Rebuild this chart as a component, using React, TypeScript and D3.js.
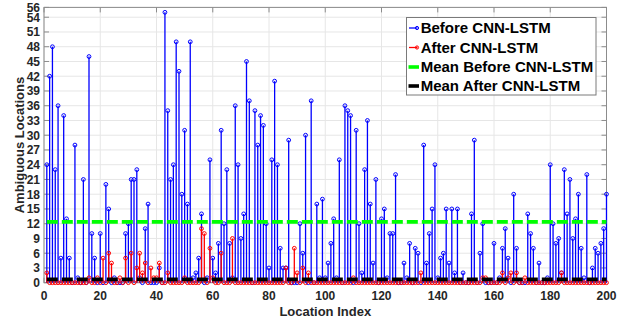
import React from "react";
import * as d3 from "d3";

// Ambiguous locations before CNN-LSTM, indices 1..200
const beforeVals: number[] = [
  24, 42, 48, 23, 36, 5, 34, 13, 5, 0, 28, 1, 0, 21, 0, 46, 10, 5, 0, 10,
  0, 20, 15, 0, 1, 0, 0, 0, 10, 12, 21, 21, 23, 1, 0, 11, 16, 0, 0, 0,
  3, 0, 55, 35, 21, 24, 49, 43, 18, 31, 16, 49, 1, 2, 5, 14, 0, 1, 25, 5,
  2, 8, 31, 12, 23, 8, 1, 36, 24, 9, 14, 45, 37, 0, 35, 28, 34, 32, 12, 3,
  25, 41, 24, 7, 3, 3, 29, 0, 0, 0, 12, 6, 30, 0, 37, 0, 16, 1, 17, 1,
  4, 8, 13, 1, 25, 0, 36, 35, 34, 0, 31, 12, 2, 23, 33, 16, 4, 21, 0, 13,
  15, 1, 10, 10, 22, 0, 0, 4, 1, 8, 0, 7, 6, 0, 28, 4, 10, 15, 24, 1,
  5, 6, 15, 4, 15, 2, 15, 0, 2, 0, 0, 14, 29, 0, 6, 12, 0, 0, 0, 8,
  0, 1, 7, 11, 5, 0, 18, 7, 0, 0, 0, 14, 10, 7, 0, 4, 0, 0, 1, 24,
  12, 8, 9, 2, 23, 14, 21, 9, 13, 18, 7, 1, 22, 0, 3, 7, 6, 8, 11, 18,
];

// Ambiguous locations after CNN-LSTM, indices 1..200
const afterVals: number[] = [
  2, 0, 0, 0, 0, 0, 0, 0, 0, 0, 0, 0, 0, 0, 0, 1, 0, 0, 1, 0,
  5, 0, 6, 4, 0, 0, 1, 0, 5, 0, 6, 0, 3, 6, 2, 4, 0, 3, 1, 1,
  4, 0, 0, 2, 0, 0, 0, 0, 0, 1, 0, 0, 0, 0, 0, 11, 10, 0, 7, 1,
  0, 0, 6, 0, 0, 0, 9, 0, 0, 0, 0, 0, 0, 0, 0, 0, 0, 0, 0, 0,
  0, 0, 0, 0, 0, 3, 0, 0, 7, 2, 0, 3, 0, 2, 0, 0, 0, 0, 0, 0,
  0, 0, 0, 0, 0, 0, 0, 0, 0, 1, 0, 0, 0, 0, 0, 0, 0, 0, 0, 0,
  0, 0, 0, 0, 0, 0, 0, 0, 0, 0, 0, 0, 0, 2, 0, 0, 0, 0, 0, 0,
  0, 0, 0, 0, 0, 0, 0, 0, 0, 0, 0, 0, 0, 0, 0, 1, 1, 0, 0, 0,
  0, 0, 2, 0, 1, 2, 0, 2, 0, 0, 1, 0, 0, 0, 0, 0, 0, 0, 0, 0,
  0, 0, 0, 2, 0, 0, 0, 0, 0, 0, 0, 0, 0, 0, 0, 0, 0, 0, 0, 0,
];

const xTicks: number[] = [0, 20, 40, 60, 80, 100, 120, 140, 160, 180, 200];
const yTicks: number[] = [0, 3, 6, 9, 12, 15, 18, 21, 24, 27, 30, 33, 36, 39, 42, 45, 48, 51, 54, 56];
const legendLabels: string[] = [
  "Before CNN-LSTM",
  "After CNN-LSTM",
  "Mean Before CNN-LSTM",
  "Mean After CNN-LSTM",
];

const W = 637;
const H = 320;
const L = 44;
const R = 606.5;
const T = 7.4;
const B = 282.7;

export default function App() {
  const x = d3.scaleLinear().domain([0, 200]).range([L, R]);
  const y = d3.scaleLinear().domain([0, 56]).range([B, T]);
  const idx = beforeVals.map((_, i) => i + 1);
  const meanBefore = d3.mean(beforeVals) as number;
  const meanAfter = d3.mean(afterVals) as number;
  const font = "'Liberation Sans', Arial, sans-serif";
  const txt = "#262626";
  const grid = "#e6e6e6";
  const box = "#8c8c8c";
  const tickLen = 5;

  const legX = 406.5;
  const legY = 17.5;
  const rowY = [28, 47.5, 67, 86];

  return (
    <svg
      width={W}
      height={H}
      style={{ position: "absolute", left: 0, top: 0, background: "#fff" }}
      fontFamily={font}
    >
      <rect x={0} y={0} width={W} height={H} fill="#fff" />
      {/* grid */}
      {yTicks.map((t) => (
        <line key={"gy" + t} x1={L} x2={R} y1={y(t)} y2={y(t)} stroke={grid} strokeWidth={1} />
      ))}
      {xTicks.map((t) => (
        <line key={"gx" + t} x1={x(t)} x2={x(t)} y1={T} y2={B} stroke={grid} strokeWidth={1} />
      ))}
      {/* box */}
      <rect x={L} y={T} width={R - L} height={B - T} fill="none" stroke={box} strokeWidth={1} />
      {/* ticks */}
      {yTicks.map((t) => (
        <g key={"ty" + t}>
          <line x1={L} x2={L + tickLen} y1={y(t)} y2={y(t)} stroke={box} />
          <line x1={R} x2={R - tickLen} y1={y(t)} y2={y(t)} stroke={box} />
          <text
            x={L - 4}
            y={y(t)}
            dy="0.36em"
            textAnchor="end"
            fontSize={12}
            fontWeight="bold"
            fill={txt}
          >
            {t}
          </text>
        </g>
      ))}
      {xTicks.map((t) => (
        <g key={"tx" + t}>
          <line x1={x(t)} x2={x(t)} y1={B} y2={B - tickLen} stroke={box} />
          <line x1={x(t)} x2={x(t)} y1={T} y2={T + tickLen} stroke={box} />
          <text
            x={x(t)}
            y={B + 13}
            dy="0.36em"
            textAnchor="middle"
            fontSize={12}
            fontWeight="bold"
            fill={txt}
          >
            {t}
          </text>
        </g>
      ))}
      {/* before stems */}
      {idx.map((i) => (
        <g key={"b" + i}>
          {beforeVals[i - 1] > 0 && (
            <line x1={x(i)} x2={x(i)} y1={y(0)} y2={y(beforeVals[i - 1])} stroke="#0000ff" strokeWidth={1.3} />
          )}
          <circle cx={x(i)} cy={y(beforeVals[i - 1])} r={1.9} fill="none" stroke="#0000ff" strokeWidth={1} />
        </g>
      ))}
      {/* after stems */}
      {idx.map((i) => (
        <g key={"a" + i}>
          {afterVals[i - 1] > 0 && (
            <line x1={x(i)} x2={x(i)} y1={y(0)} y2={y(afterVals[i - 1])} stroke="#ff0000" strokeWidth={1.3} />
          )}
          <circle cx={x(i)} cy={y(afterVals[i - 1])} r={1.9} fill="none" stroke="#ff0000" strokeWidth={1} />
        </g>
      ))}
      {/* mean lines */}
      <line
        x1={x(1)}
        x2={x(200)}
        y1={y(meanBefore)}
        y2={y(meanBefore)}
        stroke="#00ff00"
        strokeWidth={3.6}
        strokeDasharray="11 4"
      />
      <line
        x1={x(1)}
        x2={x(200)}
        y1={y(meanAfter)}
        y2={y(meanAfter)}
        stroke="#000000"
        strokeWidth={3.6}
        strokeDasharray="11 4"
      />
      {/* legend */}
      <rect x={legX} y={legY} width={189.5} height={77.5} fill="#fff" stroke="#7a7a7a" strokeWidth={1} />
      <line x1={409} x2={417.5} y1={rowY[0]} y2={rowY[0]} stroke="#0000ff" strokeWidth={1.3} />
      <circle cx={417} cy={rowY[0]} r={1.6} fill="none" stroke="#0000ff" strokeWidth={1} />
      <line x1={409} x2={417.5} y1={rowY[1]} y2={rowY[1]} stroke="#ff0000" strokeWidth={1.3} />
      <circle cx={417} cy={rowY[1]} r={1.6} fill="none" stroke="#ff0000" strokeWidth={1} />
      <line x1={408.5} x2={419} y1={rowY[2]} y2={rowY[2]} stroke="#00ff00" strokeWidth={3.6} />
      <line x1={408.5} x2={419} y1={rowY[3]} y2={rowY[3]} stroke="#000000" strokeWidth={3.6} />
      {legendLabels.map((s, k) => (
        <text key={s} x={420.7} y={rowY[k]} dy="0.36em" fontSize={15} fontWeight="bold" fill="#000">
          {s}
        </text>
      ))}
      {/* axis titles */}
      <text
        x={(L + R) / 2}
        y={311.5}
        dy="0.36em"
        textAnchor="middle"
        fontSize={13}
        fontWeight="bold"
        fill={txt}
      >
        Location Index
      </text>
      <text
        transform={`translate(19,${(T + B) / 2}) rotate(-90)`}
        dy="0.36em"
        textAnchor="middle"
        fontSize={13}
        fontWeight="bold"
        fill={txt}
      >
        Ambiguous Locations
      </text>
    </svg>
  );
}
